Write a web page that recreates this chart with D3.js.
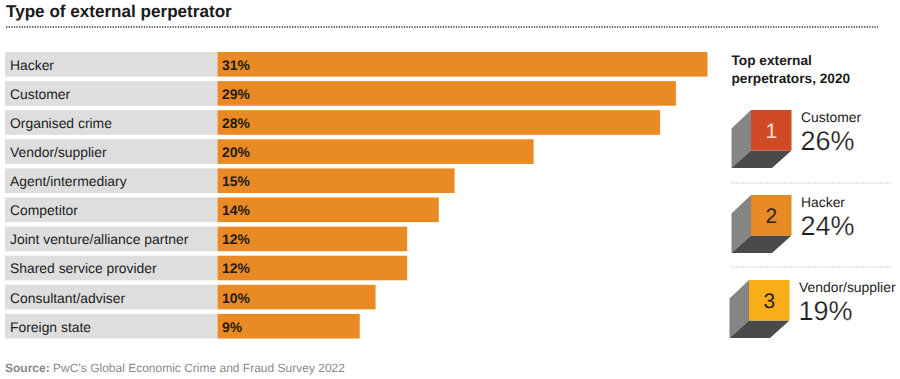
<!DOCTYPE html>
<html><head><meta charset="utf-8">
<script src="https://cdn.jsdelivr.net/npm/d3@7"></script>
<style>html,body{margin:0;padding:0;background:#fff}svg{display:block}text{font-family:"Liberation Sans",Arial,sans-serif;text-rendering:geometricPrecision}</style>
</head><body><svg id="c" width="900" height="379"></svg>
<script>
const categories = ["Hacker","Customer","Organised crime","Vendor/supplier","Agent/intermediary","Competitor","Joint venture/alliance partner","Shared service provider","Consultant/adviser","Foreign state"];
const values = [31,29,28,20,15,14,12,12,10,9];
const topNames = ["Customer","Hacker","Vendor/supplier"];
const topValues = [26,24,19];
const topRanks = [1,2,3];
const topColors = ["#d04a26","#e98a24","#f8ae19"];
const rankText = ["#f6e4dc","#2a2118","#2a2118"];
const title = "Type of external perpetrator";
const sideTitle = ["Top external","perpetrators, 2020"];

const svg = d3.select("#c");
const ink = "#1c1c1c";
svg.append("text").attr("x",6).attr("y",17).attr("font-size",17.1).attr("font-weight",700).attr("fill","#1b1b1b").text(title);
svg.append("line").attr("x1",6).attr("x2",878).attr("y1",27).attr("y2",27).attr("stroke","#333").attr("stroke-width",1.6).attr("stroke-dasharray","1.3 1.3");

const x = d3.scaleLinear().domain([0,31]).range([217.5,707.5]);
const y = d3.scaleBand().domain(categories).range([52,338.5]).paddingInner(0.155).paddingOuter(0);
const rows = svg.selectAll("g.row").data(categories).join("g").attr("class","row");
rows.append("rect").attr("x",5).attr("width",212.5).attr("y",d=>y(d)).attr("height",y.bandwidth()).attr("fill","#dedede");
rows.append("rect").attr("x",x(0)).attr("y",d=>y(d)).attr("height",y.bandwidth()).attr("width",(d,i)=>x(values[i])-x(0)).attr("fill","#e98a24");
rows.append("text").attr("x",10).attr("y",d=>y(d)+y.bandwidth()/2+5.4).attr("font-size",13.9).attr("fill",ink).text(d=>d);
rows.append("text").attr("x",222).attr("y",d=>y(d)+y.bandwidth()/2+5.4).attr("font-size",13.9).attr("font-weight",700).attr("fill","#221a12").text((d,i)=>values[i]+"%");

svg.append("text").attr("x",5).attr("y",372).attr("font-size",12).attr("fill","#8a8a8a")
  .call(t=>{t.append("tspan").attr("font-weight",700).text("Source:");t.append("tspan").text(" PwC\u2019s Global Economic Crime and Fraud Survey 2022");});

sideTitle.forEach((s,i)=>svg.append("text").attr("x",731.5).attr("y",65+i*17.5).attr("font-size",13.7).attr("font-weight",700).attr("fill","#1b1b1b").text(s));

const cubeX = d3.scaleOrdinal().domain(topRanks).range([751,751,749]);
const cubeY = d3.scaleOrdinal().domain(topRanks).range([110,195,280]);
const S=40.5, dx=19.5, dy=17.5;
const cubes = svg.selectAll("g.cube").data(topRanks).join("g").attr("class","cube").attr("transform",d=>`translate(${cubeX(d)},${cubeY(d)})`);
cubes.append("path").attr("d",`M0 0L${-dx} ${dy+1}V${S+dy}L0 ${S}Z`).attr("fill","#858585");
cubes.append("path").attr("d",`M0 ${S}L${-dx} ${S+dy}H${S-dx}L${S} ${S}Z`).attr("fill","#4a4a4a");
cubes.append("rect").attr("width",S).attr("height",S).attr("fill",(d,i)=>topColors[i]);
cubes.append("text").attr("x",S/2).attr("y",S/2+7.5).attr("text-anchor","middle").attr("font-size",21).attr("fill",(d,i)=>rankText[i]).text(d=>d);
cubes.append("text").attr("x",50).attr("y",12).attr("font-size",13.9).attr("fill",ink).text((d,i)=>topNames[i]);
cubes.append("text").attr("x",49.5).attr("y",39.5).attr("font-size",27).attr("fill",ink).attr("stroke","#fff").attr("stroke-width",0.25).text((d,i)=>topValues[i]+"%");

[183,267].forEach(v=>svg.append("line").attr("x1",731).attr("x2",892).attr("y1",v).attr("y2",v).attr("stroke","#bdbdbd").attr("stroke-width",1).attr("stroke-dasharray","1.2 1.2"));
</script></body></html>
